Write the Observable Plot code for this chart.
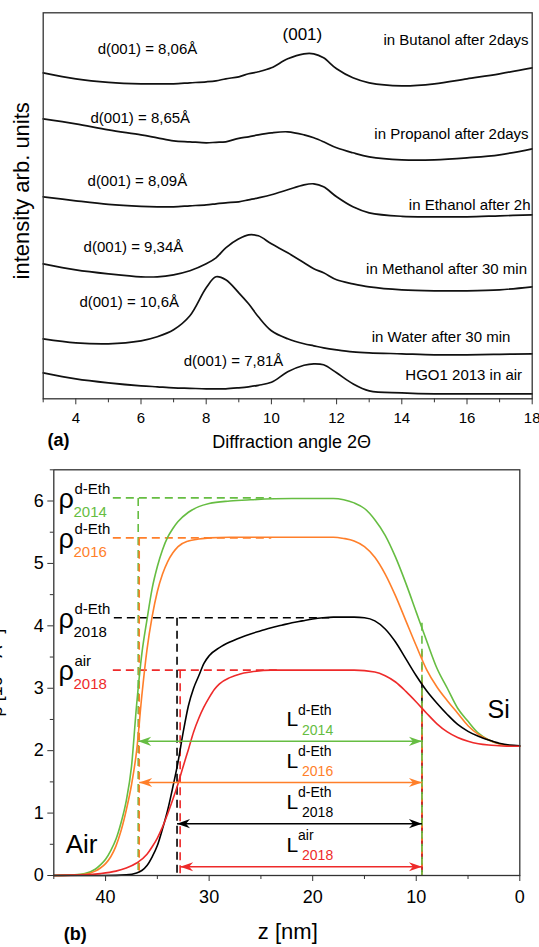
<!DOCTYPE html>
<html><head><meta charset="utf-8">
<script src="https://cdn.jsdelivr.net/npm/d3@7"></script>
<script src="https://cdn.jsdelivr.net/npm/@observablehq/plot@0.6"></script>
<style>
body{margin:0;background:#fff}
#chart{width:539px}
#chart svg{display:block}
</style>
</head><body><div id="chart"></div>
<script>
const FONT = "Liberation Sans, Arial, Helvetica, sans-serif";

// ---------- Panel (a): XRD patterns ----------
const twoTheta   = [3,4,5,6,6.5,7,7.5,8,8.3,8.6,9,9.3,9.6,10,10.5,11,11.3,11.6,12,12.5,13,14,15,16,17,18];
const iButanol   = [326,320,316.5,315,315,315,316,317,318,320,322,325,327,331,340,345,345,341,330,321,316,313,315,320,325,331];
const iPropanol  = [280,275,269,264,261,258,257,256,256.5,257,260.5,262,264,266,267,264,261,257,251,246,242,239,239,241,244,250];
const iEthanol   = [202,198,194.5,192.5,192,192,193,194,195,196,197,199,201,204,209,214,215,212,202,192,186,182.5,182,182,183,184];
const iMethanol  = [135,129,125,122,122,124,128,135,141,151,160,164,163,155,146,136,130,126,119,115,112,109,108,108,109,112];
const iWater     = [60,56,55,58,62,69,83,111,122,119,106,95,82,68,60,55,53,51,49,47,46,45,44,44,44.5,45];
const iAir       = [26,20,16,13,12,11,10.5,10,10,10,11,12,13.5,16.5,27,33.5,35,34,26,15,8,6,5,5,5,5];
const sampleKeys = ["Butanol","Propanol","Ethanol","Methanol","Water","Air"];
const sampleSeries = [iButanol,iPropanol,iEthanol,iMethanol,iWater,iAir];

const dLabels      = ["d(001) = 8,06Å","d(001) = 8,65Å","d(001) = 8,09Å","d(001) = 9,34Å","d(001) = 10,6Å","d(001) = 7,81Å"];
const dLabelX      = [4.67,4.45,4.36,4.24,4.11,7.31];
const dLabelY      = [349.7,281,218,151.3,96.3,38];
const sampleLabels = ["in Butanol after 2days","in Propanol after 2days","in Ethanol after 2h","in Methanol after 30 min","in Water after 30 min","HGO1 2013 in air"];
const sampleLabelX = [17.89,17.89,17.95,17.84,17.33,17.69];
const sampleLabelY = [358.7,264.7,194,129.7,61.3,24];
const xTicksA = [4,6,8,10,12,14,16,18];
const xMinorA = [3,5,7,9,11,13,15,17];

const xrdRows = sampleKeys.flatMap((s, k) => twoTheta.map((x, i) => ({s, x, y: sampleSeries[k][i]})));
const dRows = dLabels.map((t, i) => ({t, x: dLabelX[i], y: dLabelY[i]}));
const sRows = sampleLabels.map((t, i) => ({t, x: sampleLabelX[i], y: sampleLabelY[i]}));

const plotA = Plot.plot({
  width: 539, height: 450,
  marginTop: 12.3, marginBottom: 51.7, marginLeft: 42.7, marginRight: 7.3,
  style: {fontFamily: FONT, fontSize: "15px", color: "#000", background: "#fff", overflow: "visible"},
  x: {domain: [3, 18], axis: null, label: null},
  y: {domain: [0, 386], axis: null, label: null},
  marks: [
    Plot.line(xrdRows, {x: "x", y: "y", z: "s", stroke: "#111", strokeWidth: 1.7, curve: "catmull-rom"}),
    Plot.frame({stroke: "#333", strokeWidth: 1.3}),
    Plot.axisX(xMinorA, {tickSize: 4, tickFormat: () => "", label: null, stroke: "#333"}),
    Plot.axisX(xTicksA, {tickSize: 6, tickPadding: 8, fontSize: 15, label: null, stroke: "#333"}),
    Plot.text(dRows, {x: "x", y: "y", text: "t", textAnchor: "start", lineAnchor: "middle", fontSize: 15}),
    Plot.text(sRows, {x: "x", y: "y", text: "t", textAnchor: "end", lineAnchor: "middle", fontSize: 15}),
    Plot.text(["(001)"], {x: 10.95, y: 364.7, text: d => d, textAnchor: "middle", lineAnchor: "middle", fontSize: 17}),
    Plot.text(["intensity arb. units"], {frameAnchor: "left", text: d => d, rotate: -90, dx: -14.2, dy: -15, textAnchor: "middle", lineAnchor: "bottom", fontSize: 22}),
    Plot.text(["Diffraction angle 2Θ"], {frameAnchor: "bottom", text: d => d, dx: 4, dy: 49, textAnchor: "middle", lineAnchor: "bottom", fontSize: 18}),
    Plot.text(["(a)"], {frameAnchor: "bottom-left", text: d => d, dx: 4.3, dy: 47, textAnchor: "start", lineAnchor: "bottom", fontSize: 18, fontWeight: "bold"})
  ]
});

// ---------- Panel (b): density profiles ----------
const seriesB = ["2014","2016","2018","air"];
const colorsB = ["#66bd42","#ff7f2a","#000000","#ee2a2a"];
const zEth   = [45,43,42,41,40.5,40,39.5,39,38.5,38,37.5,37,36.5,36,35.5,35,34.5,34,33.5,33,32,31,30,28,26,22,18,17,16,15,14,13,12,11,10,9,8,7,6,5,4,3,2,1,0];
const rho2014 = [0,0.01,0.03,0.1,0.17,0.26,0.4,0.58,0.85,1.2,1.74,2.74,3.55,4.1,4.6,4.95,5.22,5.42,5.56,5.67,5.82,5.91,5.96,6.0,6.02,6.04,6.04,6.02,5.97,5.88,5.7,5.45,5.1,4.68,4.22,3.76,3.32,3.0,2.68,2.47,2.28,2.17,2.11,2.08,2.07];
const rho2016 = [0,0.01,0.02,0.07,0.12,0.19,0.3,0.47,0.72,1.05,1.45,2.0,2.88,3.62,4.15,4.55,4.83,5.03,5.17,5.27,5.36,5.39,5.41,5.42,5.42,5.42,5.42,5.4,5.36,5.27,5.1,4.83,4.48,4.08,3.68,3.3,3.02,2.8,2.6,2.4,2.26,2.17,2.11,2.08,2.07];
const z2018   = [45,40,38,37,36.5,36,35.5,35,34.5,34,33.5,33,32.5,32,31.5,31,30.5,30,29,28,27,26,25,24,23,22,21,20,19,18,17,16,15,14,13,12,11,10,9,8,7,6,5,4,3,2,1,0];
const rho2018 = [0,0,0.01,0.04,0.08,0.16,0.3,0.48,0.75,1.05,1.42,1.82,2.3,2.72,3.0,3.2,3.4,3.52,3.65,3.74,3.81,3.87,3.92,3.97,4.01,4.05,4.08,4.11,4.13,4.14,4.14,4.14,4.13,4.08,3.95,3.74,3.47,3.2,2.96,2.76,2.58,2.42,2.31,2.23,2.17,2.12,2.09,2.08];
const zAir    = [45,42,40.5,39,38,37,36,35.5,35,34.5,34,33.5,33,32.5,32,31.5,31,30.5,30,29.5,29,28,27,26,24,16,14,13,12,11,10,9,8,7,6,5,4,3,2,1,0];
const rhoAir  = [0,0.01,0.03,0.07,0.12,0.2,0.34,0.46,0.6,0.78,0.99,1.22,1.47,1.75,2.02,2.3,2.52,2.7,2.85,2.98,3.07,3.17,3.23,3.26,3.29,3.29,3.26,3.2,3.1,2.95,2.78,2.6,2.43,2.3,2.21,2.15,2.11,2.09,2.08,2.07,2.07];

const profileZ   = [zEth, zEth, z2018, zAir];
const profileRho = [rho2014, rho2016, rho2018, rhoAir];
const profileRows = seriesB.flatMap((s, k) => profileZ[k].map((z, i) => ({s, z, rho: profileRho[k][i]})));

// read-off plateau densities and interface positions
const plateauRho   = [6.05, 5.41, 4.13, 3.29];
const plateauFrom  = [39.3, 39.3, 39.2, 39.3];
const plateauTo    = [24, 24, 18.4, 23];
const airEdgeZ     = [36.85, 36.75, 33.1, 32.8];
const siEdgeZ      = 9.45;
const siEdgeTop    = [4.05, 3.6, 3.1, 2.7];
const thicknessRho = [2.15, 1.49, 0.83, 0.14];
const supTexts = ["d-Eth","d-Eth","d-Eth","air"];
const subTexts = ["2014","2016","2018","2018"];

const hGuides = seriesB.map((s, i) => ({s, x1: plateauFrom[i], x2: plateauTo[i], y: plateauRho[i]}));
const vGuidesL = seriesB.map((s, i) => ({s, x: airEdgeZ[i], y1: plateauRho[i], y2: 0}));
const vGuidesR = [2, 3, 1, 0].map(i => ({s: seriesB[i], x: siEdgeZ, y1: siEdgeTop[i], y2: 0}));
const arrows = seriesB.map((s, i) => ({s, x1: airEdgeZ[i], x2: siEdgeZ, y: thicknessRho[i]}));
const labelRows = seriesB.map((s, i) => ({s, level: plateauRho[i], arrowY: thicknessRho[i], sup: supTexts[i], sub: subTexts[i]}));

const headRight = {draw(c) { c.moveTo(0, 0); c.lineTo(-13, -4.6); c.lineTo(-9, 0); c.lineTo(-13, 4.6); c.closePath(); }};
const headLeft  = {draw(c) { c.moveTo(0, 0); c.lineTo(13, -4.6); c.lineTo(9, 0); c.lineTo(13, 4.6); c.closePath(); }};

const xTicksB = [40,30,20,10,0];
const xMinorB = [45,35,25,15,5];
const yTicksB = [0,1,2,3,4,5,6];
const yMinorB = [0.5,1.5,2.5,3.5,4.5,5.5,6.5];

const plotB = Plot.plot({
  width: 539, height: 497,
  marginTop: 19.3, marginBottom: 72, marginLeft: 53.3, marginRight: 19.7,
  style: {fontFamily: FONT, fontSize: "15px", color: "#000", background: "#fff"},
  x: {domain: [45, 0], axis: null, label: null},
  y: {domain: [0, 6.5], axis: null, label: null},
  color: {domain: seriesB, range: colorsB},
  marks: [
    Plot.link(hGuides, {x1: "x1", x2: "x2", y1: "y", y2: "y", stroke: "s", strokeWidth: 1.6, strokeDasharray: "8,5"}),
    Plot.link(vGuidesL, {x1: "x", x2: "x", y1: "y1", y2: "y2", stroke: "s", strokeWidth: 1.6, strokeDasharray: "8,5"}),
    Plot.link(vGuidesR, {x1: "x", x2: "x", y1: "y1", y2: "y2", stroke: "s", strokeWidth: 1.6, strokeDasharray: "8,5"}),
    Plot.line(profileRows, {x: "z", y: "rho", z: "s", stroke: "s", strokeWidth: 1.6, curve: "monotone-x"}),
    Plot.link(arrows, {x1: "x1", x2: "x2", y1: "y", y2: "y", stroke: "s", strokeWidth: 1.6}),
    Plot.dot(arrows, {x: "x2", y: "y", symbol: headRight, fill: "s"}),
    Plot.dot(arrows, {x: "x1", y: "y", symbol: headLeft, fill: "s"}),
    Plot.frame({stroke: "#333", strokeWidth: 1.3}),
    Plot.axisX(xMinorB, {tickSize: 4, tickFormat: () => "", label: null, stroke: "#333"}),
    Plot.axisX(xTicksB, {tickSize: 6, tickPadding: 9, fontSize: 18, tickFormat: d => String(d), label: null, stroke: "#333"}),
    Plot.axisY(yMinorB, {tickSize: 3.5, tickFormat: () => "", label: null, stroke: "#333"}),
    Plot.axisY(yTicksB, {tickSize: 6, tickPadding: 4, fontSize: 18, tickFormat: d => String(d), label: null, stroke: "#333"}),
    // rho labels
    Plot.text(labelRows, {x: 44.55, y: "level", text: () => "ρ", dy: 10, textAnchor: "start", lineAnchor: "bottom", fontSize: 27, fill: "#000"}),
    Plot.text(labelRows, {x: 43.01, y: "level", text: "sup", dy: -4, textAnchor: "start", lineAnchor: "bottom", fontSize: 15, fill: "#000"}),
    Plot.text(labelRows, {x: 43.1, y: "level", text: "sub", dy: 19, textAnchor: "start", lineAnchor: "bottom", fontSize: 15, fill: "s"}),
    // L labels
    Plot.text(labelRows, {x: 22.53, y: "arrowY", text: () => "L", dy: -15, textAnchor: "start", lineAnchor: "bottom", fontSize: 21, fill: "#000"}),
    Plot.text(labelRows, {x: 21.41, y: "arrowY", text: "sup", dy: -26.5, textAnchor: "start", lineAnchor: "bottom", fontSize: 14, fill: "#000"}),
    Plot.text(labelRows, {x: 21.03, y: "arrowY", text: "sub", dy: -6.5, textAnchor: "start", lineAnchor: "bottom", fontSize: 14, fill: "s"}),
    Plot.text(["Air"], {x: 43.85, y: 0.353, text: d => d, textAnchor: "start", lineAnchor: "bottom", fontSize: 26, fill: "#000"}),
    Plot.text(["Si"], {x: 0.96, y: 2.52, text: d => d, textAnchor: "end", lineAnchor: "bottom", fontSize: 25, fill: "#000"}),
    Plot.text(["ρ [10⁻⁶ Å⁻²]"], {frameAnchor: "left", text: d => d, rotate: -90, dx: -51.5, dy: 0, textAnchor: "middle", lineAnchor: "bottom", fontSize: 18, fill: "#000"}),
    Plot.text(["z [nm]"], {frameAnchor: "bottom", text: d => d, dx: 1, dy: 63, textAnchor: "middle", lineAnchor: "bottom", fontSize: 22, fill: "#000"}),
    Plot.text(["(b)"], {frameAnchor: "bottom-left", text: d => d, dx: 10, dy: 64, textAnchor: "start", lineAnchor: "bottom", fontSize: 18, fontWeight: "bold", fill: "#000"})
  ]
});

const chart = document.getElementById("chart");
chart.appendChild(plotA);
chart.appendChild(plotB);
</script>
</body></html>
